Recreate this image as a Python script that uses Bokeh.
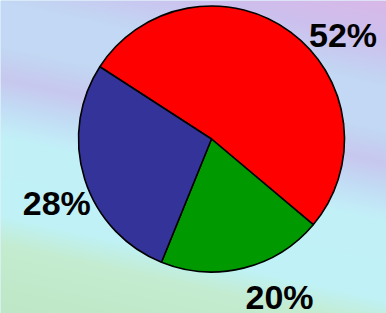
import numpy as np
from bokeh.plotting import figure
from bokeh.models import Range1d, ColumnDataSource
from bokeh.embed import file_html
from bokeh.resources import INLINE
from bokeh.core.properties import value

# ---- data ----
labels = ["52%", "20%", "28%"]
shares = [52, 20, 28]
colors = ["#ff0000", "#009900", "#333399"]

# ---- layout ----
W, H = 386, 313
CX, CY, R = 211.0, 174.5, 133.0
START_DEG = 147.1
label_x = [342.5, 279.0, 56.3]
label_y = [279.0, 17.0, 111.0]

p = figure(width=W, height=H, output_backend="svg", toolbar_location=None,
           x_range=Range1d(0, W), y_range=Range1d(0, H), min_border=0)
p.axis.visible = False
p.grid.visible = False
p.outline_line_color = None
p.background_fill_color = "#c2e4f6"
p.border_fill_color = "#c2e4f6"

# ---- background gradient (style) ----
rows = np.arange(H)
cols = np.arange(W)
X = cols[None, :] + 0.5
Y = H - rows[:, None] - 0.5
t = Y - 0.22 * X
stops_t = [-95, -45, 0, 45, 78, 105, 135, 215, 245, 330]
stops_c = ["#dcb6e6", "#cdc0ee", "#c2d8f4", "#c2d9f4", "#c8c8ee", "#c2dcf5",
           "#c2f0f8", "#c0f2f6", "#c4ecd0", "#bce6c4"]
def hx(c):
    return [int(c[i:i + 2], 16) for i in (1, 3, 5)]
rgb = np.array([hx(c) for c in stops_c], dtype=float)
img = np.empty((H, W), dtype=np.uint32)
view = img.view(dtype=np.uint8).reshape((H, W, 4))
for k in range(3):
    view[..., k] = np.interp(t, stops_t, rgb[:, k]).astype(np.uint8)
view[..., 3] = 255
p.image_rgba(image=[img], x=0, y=0, dw=W, dh=H)

# ---- pie ----
frac = np.array(shares, dtype=float) / sum(shares)
before = np.concatenate([[0.0], np.cumsum(frac)[:-1]])
starts = np.radians(START_DEG - before * 360.0)
ends = np.radians(START_DEG - (before + frac) * 360.0)
src = ColumnDataSource(dict(start=starts, end=ends, color=colors, label=labels))
p.wedge(x=CX, y=CY, radius=R, start_angle="start", end_angle="end",
        direction="clock", fill_color="color",
        line_color="black", line_width=1.6, source=src)

p.text(x=label_x, y=label_y, text=labels, text_font=value("Liberation Sans"),
       text_font_style="bold", text_font_size="34px", text_align="center",
       text_baseline="alphabetic", text_color="black")

open("out.html", "w").write(file_html(p, INLINE))
